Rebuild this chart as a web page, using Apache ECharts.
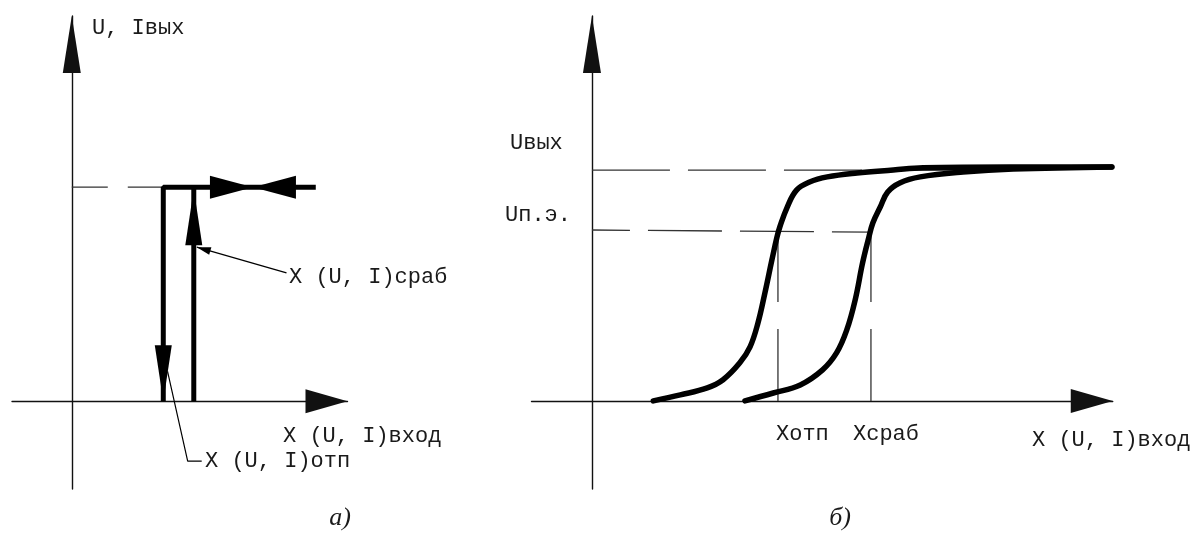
<!DOCTYPE html>
<html>
<head>
<meta charset="utf-8">
<title>Характеристики реле</title>
<script src="https://cdn.jsdelivr.net/npm/echarts@6/dist/echarts.min.js"></script>
<style>
html, body { margin: 0; padding: 0; background: #fff; }
#relayChart { width: 1192px; height: 535px; }
</style>
</head>
<body>
<div id="relayChart"></div>
<script>
// ---- а) релейная характеристика ----
var aRelease = [[1.5, 0], [1.5, 1], [4.0, 1]];   // линия отпускания + выход
var aPickup = [[2.0, 0], [2.0, 1]];              // линия срабатывания
var aLevelDash = [[0, 1], [1.5, 1]];
var aLeaderSrab = [[2.05, 0.72], [3.52, 0.6]];
var aLeaderOtp = [[1.57, 0.14], [1.9, -0.28], [2.13, -0.28]];
// стрелки: [x острия, y острия, x откуда, y откуда]
var aVertArrows = [[1.5, 0, 1.5, 1], [2.0, 0.99, 2.0, 0]];
var aHorizArrows = [[2.97, 1, 1.5, 1], [2.97, 1, 4.0, 1]];
var aLeaderArrows = [[2.05, 0.72, 3.52, 0.6]];

// ---- б) характеристика с гистерезисом ----
var bXotp = 2.0;
var bXsrab = 3.0;
var bUout = 0.995;
var bUpe = [0.737, 0.728];
var bReleaseCurve = [
  [0.66, 0], [0.95, 0.026], [1.24, 0.056], [1.41, 0.091], [1.59, 0.164],
  [1.70, 0.233], [1.785, 0.336], [1.86, 0.466], [1.935, 0.608], [1.99, 0.707],
  [2.02, 0.75], [2.10, 0.836], [2.20, 0.909], [2.34, 0.944], [2.53, 0.966],
  [2.85, 0.983], [3.24, 0.996], [3.56, 1.006], [4.5, 1.009], [5.59, 1.009]
];
var bPickupCurve = [
  [1.645, 0], [1.95, 0.034], [2.24, 0.069], [2.48, 0.134], [2.63, 0.207],
  [2.74, 0.306], [2.83, 0.435], [2.91, 0.595], [2.97, 0.694], [3.02, 0.767],
  [3.10, 0.836], [3.18, 0.901], [3.31, 0.94], [3.53, 0.966], [3.99, 0.987],
  [4.53, 1.0], [5.59, 1.009]
];

var cadFont = '22px "Liberation Mono", "DejaVu Sans Mono", monospace';
var capFont = 'italic 26px "Liberation Serif", "DejaVu Serif", serif';

function axisOf(idx, min, max, arrowW, arrowL) {
  return {
    type: 'value', gridIndex: idx, min: min, max: max,
    axisLine: {
      onZero: true,
      symbol: ['none', 'triangle'],
      symbolSize: [arrowW, arrowL],
      symbolOffset: [0, -arrowL / 2],
      lineStyle: { color: '#111', width: 1.4 }
    },
    axisTick: { show: false },
    axisLabel: { show: false },
    splitLine: { show: false }
  };
}

function lineOf(idx, data, width, dash, offset, color) {
  return {
    type: 'line', xAxisIndex: idx, yAxisIndex: idx, data: data,
    symbol: 'none', silent: true, z: dash ? 1 : 2,
    lineStyle: { color: color || '#000', width: width, type: dash || 'solid', dashOffset: offset || 0, cap: 'butt' }
  };
}

function curveOf(idx, data) {
  var s = lineOf(idx, data, 5.5, null, 0);
  s.smooth = 0.4;
  s.lineStyle.cap = 'round';
  s.lineStyle.join = 'round';
  return s;
}

// треугольная стрелка, острие в данных, направление "откуда -> острие"
function arrowsOf(idx, data, len, halfW) {
  return {
    type: 'custom', xAxisIndex: idx, yAxisIndex: idx, silent: true, z: 3,
    data: data,
    renderItem: function (params, api) {
      var tip = api.coord([api.value(0), api.value(1)]);
      var from = api.coord([api.value(2), api.value(3)]);
      var dx = tip[0] - from[0], dy = tip[1] - from[1];
      var d = Math.sqrt(dx * dx + dy * dy) || 1;
      var ux = dx / d, uy = dy / d;
      var bx = tip[0] - ux * len, by = tip[1] - uy * len;
      return {
        type: 'polygon',
        shape: { points: [tip, [bx - uy * halfW, by + ux * halfW], [bx + uy * halfW, by - ux * halfW]] },
        style: { fill: '#000' }
      };
    }
  };
}

function label(text, x, y, font, align) {
  return {
    type: 'text', x: x, y: y, silent: true,
    style: { text: text, font: font || cadFont, fill: '#1a1a1a', align: align || 'left', verticalAlign: 'middle' }
  };
}

var chart = echarts.init(document.getElementById('relayChart'));

var option = {
  backgroundColor: '#fff',
  animation: false,
  grid: [
    { left: 12, top: 16, width: 335.5, height: 473 },
    { left: 531.5, top: 16, width: 581.25, height: 473 }
  ],
  xAxis: [axisOf(0, -0.98, 4.52, 24, 42), axisOf(1, -0.65, 5.6, 24, 42)],
  yAxis: [axisOf(0, -0.41, 1.8, 18, 57), axisOf(1, -0.38, 1.66, 18, 57)],
  series: [
    // а)
    lineOf(0, aLevelDash, 1.3, [36, 20], 0, '#333'),
    lineOf(0, aRelease, 5),
    lineOf(0, aPickup, 5),
    lineOf(0, aLeaderSrab, 1.2),
    lineOf(0, aLeaderOtp, 1.2),
    arrowsOf(0, aVertArrows, 56, 8.5),
    arrowsOf(0, aHorizArrows, 43, 11.5),
    arrowsOf(0, aLeaderArrows, 14, 4),
    // б)
    lineOf(1, [[0, bUout], [4.5, bUout]], 1.3, [78, 18], 0, '#333'),
    lineOf(1, [[0, bUpe[0]], [bXsrab, bUpe[1]]], 1.3, [74, 18], 36, '#333'),
    lineOf(1, [[bXotp, 0], [bXotp, bUpe[0]]], 1.3, [72, 27], 0, '#333'),
    lineOf(1, [[bXsrab, 0], [bXsrab, bUpe[1]]], 1.3, [72, 27], 0, '#333'),
    curveOf(1, bReleaseCurve),
    curveOf(1, bPickupCurve)
  ],
  graphic: [
    label('U, Iвых', 92, 28),
    label('X (U, I)сраб', 289, 277),
    label('X (U, I)вход', 283, 436),
    label('X (U, I)отп', 205, 461),
    label('Uвых', 510, 143),
    label('Uп.э.', 505, 215),
    label('Xотп', 776, 434),
    label('Xсраб', 853, 434),
    label('X (U, I)вход', 1032, 440),
    label('а)', 340, 518, capFont, 'center'),
    label('б)', 840, 518, capFont, 'center')
  ]
};

chart.setOption(option);
</script>
</body>
</html>
